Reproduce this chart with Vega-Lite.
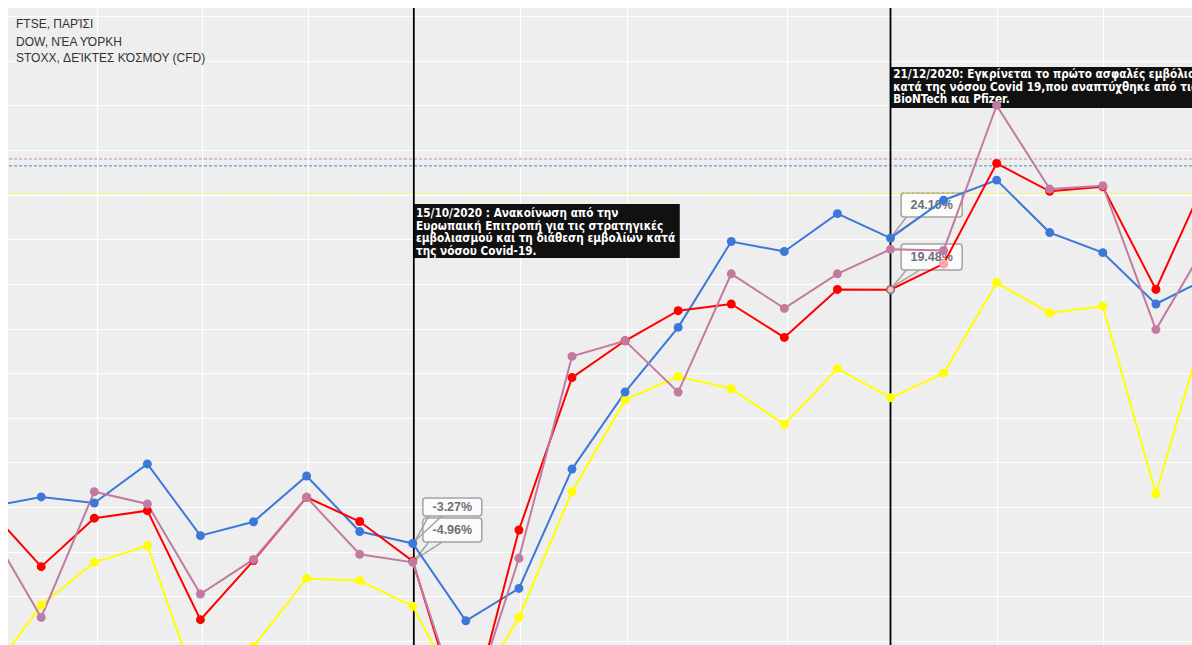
{
  "$schema": "https://vega.github.io/schema/vega-lite/v6.json",
  "autosize": {"type": "none"},
  "padding": {"left": 8, "top": 8, "right": 0, "bottom": 0},
  "width": 1184,
  "height": 637,
  "background": "#ffffff",
  "config": {
    "view": {"fill": "#eeeeee", "stroke": null},
    "axis": {"labels": false, "ticks": false, "domain": false, "title": null, "gridColor": "#ffffff", "gridWidth": 1.2, "gridOpacity": 1}
  },
  "datasets": {
    "series": [
      {"s":"yellow","x":-1,"y":-15.2},{"s":"yellow","x":0,"y":-8.8},{"s":"yellow","x":1,"y":-4.96},{"s":"yellow","x":2,"y":-3.47},{"s":"yellow","x":3,"y":-17.0},{"s":"yellow","x":4,"y":-12.5},{"s":"yellow","x":5,"y":-6.4},{"s":"yellow","x":6,"y":-6.6},{"s":"yellow","x":7,"y":-8.9},{"s":"yellow","x":8,"y":-17.9},{"s":"yellow","x":9,"y":-9.9},{"s":"yellow","x":10,"y":1.37},{"s":"yellow","x":11,"y":9.6},{"s":"yellow","x":12,"y":11.7},{"s":"yellow","x":13,"y":10.6},{"s":"yellow","x":14,"y":7.4},{"s":"yellow","x":15,"y":12.4},{"s":"yellow","x":16,"y":9.8},{"s":"yellow","x":17,"y":12.0},{"s":"yellow","x":18,"y":20.1},{"s":"yellow","x":19,"y":17.4},{"s":"yellow","x":20,"y":18.0},{"s":"yellow","x":21,"y":1.17},{"s":"yellow","x":22,"y":17.5},
      {"s":"blue","x":-1,"y":0.0},{"s":"blue","x":0,"y":0.9},{"s":"blue","x":1,"y":0.36},{"s":"blue","x":2,"y":3.86},{"s":"blue","x":3,"y":-2.57},{"s":"blue","x":4,"y":-1.32},{"s":"blue","x":5,"y":2.78},{"s":"blue","x":6,"y":-2.2},{"s":"blue","x":7,"y":-3.27},{"s":"blue","x":8,"y":-10.2},{"s":"blue","x":9,"y":-7.3},{"s":"blue","x":10,"y":3.4},{"s":"blue","x":11,"y":10.3},{"s":"blue","x":12,"y":16.1},{"s":"blue","x":13,"y":23.8},{"s":"blue","x":14,"y":22.9},{"s":"blue","x":15,"y":26.3},{"s":"blue","x":16,"y":24.1},{"s":"blue","x":17,"y":27.5},{"s":"blue","x":18,"y":29.3},{"s":"blue","x":19,"y":24.6},{"s":"blue","x":20,"y":22.8},{"s":"blue","x":21,"y":18.2},{"s":"blue","x":22,"y":20.6},
      {"s":"red","x":-1,"y":-0.1},{"s":"red","x":0,"y":-5.35},{"s":"red","x":1,"y":-1.0},{"s":"red","x":2,"y":-0.33},{"s":"red","x":3,"y":-10.1},{"s":"red","x":4,"y":-4.8},{"s":"red","x":5,"y":0.87},{"s":"red","x":6,"y":-1.3},{"s":"red","x":7,"y":-4.85},{"s":"red","x":8,"y":-20.3},{"s":"red","x":9,"y":-2.06},{"s":"red","x":10,"y":11.6},{"s":"red","x":11,"y":14.9},{"s":"red","x":12,"y":17.6},{"s":"red","x":13,"y":18.2},{"s":"red","x":14,"y":15.2},{"s":"red","x":15,"y":19.5},{"s":"red","x":16,"y":19.48},{"s":"red","x":17,"y":21.8},{"s":"red","x":18,"y":30.8},{"s":"red","x":19,"y":28.3},{"s":"red","x":20,"y":28.7},{"s":"red","x":21,"y":19.5},{"s":"red","x":22,"y":30.0},
      {"s":"pink","x":-1,"y":-1.7},{"s":"pink","x":0,"y":-9.9},{"s":"pink","x":1,"y":1.37},{"s":"pink","x":2,"y":0.27},{"s":"pink","x":3,"y":-7.8},{"s":"pink","x":4,"y":-4.7},{"s":"pink","x":5,"y":0.87},{"s":"pink","x":6,"y":-4.24},{"s":"pink","x":7,"y":-4.96},{"s":"pink","x":8,"y":-19.4},{"s":"pink","x":9,"y":-4.6},{"s":"pink","x":10,"y":13.5},{"s":"pink","x":11,"y":14.9},{"s":"pink","x":12,"y":10.3},{"s":"pink","x":13,"y":20.9},{"s":"pink","x":14,"y":17.8},{"s":"pink","x":15,"y":20.9},{"s":"pink","x":16,"y":23.1},{"s":"pink","x":17,"y":23.0},{"s":"pink","x":18,"y":36.0},{"s":"pink","x":19,"y":28.5},{"s":"pink","x":20,"y":28.8},{"s":"pink","x":21,"y":15.9},{"s":"pink","x":22,"y":24.0}
    ],
    "boxes": [
      {"x":7.02,"x2":12.03,"y":27.16,"y2":22.32},
      {"x":16.0,"x2":23,"y":39.44,"y2":35.77}
    ],
    "notes": [
      {"x":7.06,"y":25.99,"t":"15/10/2020 : Ανακοίνωση από την\nΕυρωπαική Επιτροπή για τις στρατηγικές\nεμβολιασμού και τη διάθεση εμβολίων κατά\nτης νόσου Covid-19."},
      {"x":16.05,"y":38.45,"t":"21/12/2020: Εγκρίνεται το πρώτο ασφαλές εμβόλιο\nκατά της νόσου Covid 19,που αναπτύχθηκε από τις\nBioNTech και Pfizer."}
    ],
    "tips": [
      {"x":7.19,"x2":8.3,"y":0.81,"y2":-0.81,"tx":7.745,"ty":0.0,"t":"-3.27%"},
      {"x":7.19,"x2":8.3,"y":-0.99,"y2":-3.14,"tx":7.745,"ty":-2.06,"t":"-4.96%"},
      {"x":16.2,"x2":17.35,"y":28.15,"y2":26.0,"tx":16.775,"ty":27.07,"t":"24.10%"},
      {"x":16.2,"x2":17.35,"y":23.57,"y2":21.24,"tx":16.775,"ty":22.4,"t":"19.48%"}
    ],
    "tails": [
      {"x":7.3,"y":-0.81,"x2":7.05,"y2":-3.0},
      {"x":7.55,"y":-0.81,"x2":7.05,"y2":-3.0},
      {"x":7.3,"y":-3.14,"x2":7.05,"y2":-4.7},
      {"x":7.55,"y":-3.14,"x2":7.05,"y2":-4.7},
      {"x":16.3,"y":26.0,"x2":16.03,"y2":24.3},
      {"x":16.55,"y":26.0,"x2":16.03,"y2":24.3},
      {"x":16.3,"y":21.24,"x2":16.03,"y2":19.7},
      {"x":16.55,"y":21.24,"x2":16.03,"y2":19.7}
    ],
    "hlines": [
      {"s":"pink","y":31.2},
      {"s":"blue","y":30.6},
      {"s":"yellow","y":28.2}
    ],
    "events": [
      {"x":7.02},
      {"x":16.0}
    ],
    "hl": [
      {"k":"sel","x":16,"y":19.48},
      {"k":"near","x":17,"y":21.8}
    ],
    "legend": [
      {"x":-0.475,"y":42.91,"t":"FTSE, ΠΑΡΊΣΙ"},
      {"x":-0.475,"y":41.35,"t":"DOW, ΝΈΑ ΥΌΡΚΗ"},
      {"x":-0.475,"y":39.85,"t":"STOXX, ΔΕΊΚΤΕΣ ΚΌΣΜΟΥ (CFD)"}
    ]
  },
  "layer": [
    {
      "data": {"name": "boxes"},
      "mark": {"type": "rect", "fill": "#111111", "clip": true},
      "encoding": {
        "x": {"field": "x", "type": "quantitative", "scale": {"domain": [-0.6255, 21.68], "nice": false, "zero": false}, "axis": {"values": [1.05, 3.03, 5.03, 7.02, 9.02, 11.03, 14.05, 16, 18, 20]}},
        "x2": {"field": "x2"},
        "y": {"field": "y", "type": "quantitative", "scale": {"domain": [-12.37, 44.73], "nice": false, "zero": false}, "axis": {"values": [-12, -8, -4, 0, 4, 8, 12, 16, 20, 24, 28, 32, 36, 40, 44]}},
        "y2": {"field": "y2"}
      }
    },
    {
      "data": {"name": "notes"},
      "mark": {"type": "text", "align": "left", "baseline": "alphabetic", "color": "#ffffff", "font": "DejaVu Sans Condensed", "fontWeight": "bold", "fontSize": 11.7, "lineBreak": "\n", "lineHeight": 12.7, "clip": true},
      "encoding": {
        "x": {"field": "x", "type": "quantitative", "scale": {"domain": [-0.6255, 21.68], "nice": false, "zero": false}, "axis": {"values": [1.05, 3.03, 5.03, 7.02, 9.02, 11.03, 14.05, 16, 18, 20]}},
        "y": {"field": "y", "type": "quantitative", "scale": {"domain": [-12.37, 44.73], "nice": false, "zero": false}, "axis": {"values": [-12, -8, -4, 0, 4, 8, 12, 16, 20, 24, 28, 32, 36, 40, 44]}},
        "text": {"field": "t", "type": "nominal"}
      }
    },
    {
      "data": {"name": "tips"},
      "mark": {"type": "rect", "fill": "#fbfbfb", "stroke": "#a3a3a3", "strokeWidth": 1.5, "cornerRadius": 3},
      "encoding": {
        "x": {"field": "x", "type": "quantitative", "scale": {"domain": [-0.6255, 21.68], "nice": false, "zero": false}, "axis": {"values": [1.05, 3.03, 5.03, 7.02, 9.02, 11.03, 14.05, 16, 18, 20]}},
        "x2": {"field": "x2"},
        "y": {"field": "y", "type": "quantitative", "scale": {"domain": [-12.37, 44.73], "nice": false, "zero": false}, "axis": {"values": [-12, -8, -4, 0, 4, 8, 12, 16, 20, 24, 28, 32, 36, 40, 44]}},
        "y2": {"field": "y2"}
      }
    },
    {
      "data": {"name": "tails"},
      "mark": {"type": "rule", "stroke": "#a3a3a3", "strokeWidth": 1.5},
      "encoding": {
        "x": {"field": "x", "type": "quantitative", "scale": {"domain": [-0.6255, 21.68], "nice": false, "zero": false}, "axis": {"values": [1.05, 3.03, 5.03, 7.02, 9.02, 11.03, 14.05, 16, 18, 20]}},
        "x2": {"field": "x2"},
        "y": {"field": "y", "type": "quantitative", "scale": {"domain": [-12.37, 44.73], "nice": false, "zero": false}, "axis": {"values": [-12, -8, -4, 0, 4, 8, 12, 16, 20, 24, 28, 32, 36, 40, 44]}},
        "y2": {"field": "y2"}
      }
    },
    {
      "data": {"name": "tips"},
      "mark": {"type": "text", "align": "center", "baseline": "middle", "color": "#6b7078", "font": "Liberation Sans", "fontWeight": "bold", "fontSize": 12.5},
      "encoding": {
        "x": {"field": "tx", "type": "quantitative", "scale": {"domain": [-0.6255, 21.68], "nice": false, "zero": false}, "axis": {"values": [1.05, 3.03, 5.03, 7.02, 9.02, 11.03, 14.05, 16, 18, 20]}},
        "y": {"field": "ty", "type": "quantitative", "scale": {"domain": [-12.37, 44.73], "nice": false, "zero": false}, "axis": {"values": [-12, -8, -4, 0, 4, 8, 12, 16, 20, 24, 28, 32, 36, 40, 44]}},
        "text": {"field": "t", "type": "nominal"}
      }
    },
    {
      "data": {"name": "hlines"},
      "mark": {"type": "rule", "strokeDash": [3, 2], "strokeWidth": 1.5, "opacity": 0.6},
      "encoding": {
        "y": {"field": "y", "type": "quantitative", "scale": {"domain": [-12.37, 44.73], "nice": false, "zero": false}, "axis": {"values": [-12, -8, -4, 0, 4, 8, 12, 16, 20, 24, 28, 32, 36, 40, 44]}},
        "color": {"field": "s", "type": "nominal", "scale": {"domain": ["yellow", "blue", "red", "pink"], "range": ["#ffff00", "#3c78d8", "#ff0000", "#c27ba0"]}, "legend": null}
      }
    },
    {
      "data": {"name": "events"},
      "mark": {"type": "rule", "color": "#000000", "strokeWidth": 1.8},
      "encoding": {
        "x": {"field": "x", "type": "quantitative", "scale": {"domain": [-0.6255, 21.68], "nice": false, "zero": false}, "axis": {"values": [1.05, 3.03, 5.03, 7.02, 9.02, 11.03, 14.05, 16, 18, 20]}}
      }
    },
    {
      "data": {"name": "series"},
      "mark": {"type": "line", "strokeWidth": 2, "clip": true},
      "encoding": {
        "x": {"field": "x", "type": "quantitative", "scale": {"domain": [-0.6255, 21.68], "nice": false, "zero": false}, "axis": {"values": [1.05, 3.03, 5.03, 7.02, 9.02, 11.03, 14.05, 16, 18, 20]}},
        "y": {"field": "y", "type": "quantitative", "scale": {"domain": [-12.37, 44.73], "nice": false, "zero": false}, "axis": {"values": [-12, -8, -4, 0, 4, 8, 12, 16, 20, 24, 28, 32, 36, 40, 44]}},
        "color": {"field": "s", "type": "nominal", "scale": {"domain": ["yellow", "blue", "red", "pink"], "range": ["#ffff00", "#3c78d8", "#ff0000", "#c27ba0"]}, "legend": null}
      }
    },
    {
      "data": {"name": "series"},
      "mark": {"type": "circle", "size": 80, "opacity": 1, "clip": true},
      "encoding": {
        "x": {"field": "x", "type": "quantitative", "scale": {"domain": [-0.6255, 21.68], "nice": false, "zero": false}, "axis": {"values": [1.05, 3.03, 5.03, 7.02, 9.02, 11.03, 14.05, 16, 18, 20]}},
        "y": {"field": "y", "type": "quantitative", "scale": {"domain": [-12.37, 44.73], "nice": false, "zero": false}, "axis": {"values": [-12, -8, -4, 0, 4, 8, 12, 16, 20, 24, 28, 32, 36, 40, 44]}},
        "color": {"field": "s", "type": "nominal", "scale": {"domain": ["yellow", "blue", "red", "pink"], "range": ["#ffff00", "#3c78d8", "#ff0000", "#c27ba0"]}, "legend": null}
      }
    },
    {
      "data": {"name": "hl"},
      "transform": [{"filter": "datum.k == 'sel'"}],
      "mark": {"type": "point", "filled": true, "fill": "#f0c8c8", "stroke": "#8a8a8a", "strokeWidth": 1.5, "size": 50, "opacity": 1},
      "encoding": {
        "x": {"field": "x", "type": "quantitative", "scale": {"domain": [-0.6255, 21.68], "nice": false, "zero": false}, "axis": {"values": [1.05, 3.03, 5.03, 7.02, 9.02, 11.03, 14.05, 16, 18, 20]}},
        "y": {"field": "y", "type": "quantitative", "scale": {"domain": [-12.37, 44.73], "nice": false, "zero": false}, "axis": {"values": [-12, -8, -4, 0, 4, 8, 12, 16, 20, 24, 28, 32, 36, 40, 44]}}
      }
    },
    {
      "data": {"name": "hl"},
      "transform": [{"filter": "datum.k == 'near'"}],
      "mark": {"type": "circle", "color": "#ffaaaa", "size": 80, "opacity": 1},
      "encoding": {
        "x": {"field": "x", "type": "quantitative", "scale": {"domain": [-0.6255, 21.68], "nice": false, "zero": false}, "axis": {"values": [1.05, 3.03, 5.03, 7.02, 9.02, 11.03, 14.05, 16, 18, 20]}},
        "y": {"field": "y", "type": "quantitative", "scale": {"domain": [-12.37, 44.73], "nice": false, "zero": false}, "axis": {"values": [-12, -8, -4, 0, 4, 8, 12, 16, 20, 24, 28, 32, 36, 40, 44]}}
      }
    },
    {
      "data": {"name": "legend"},
      "mark": {"type": "text", "align": "left", "baseline": "alphabetic", "color": "#333333", "font": "Liberation Sans", "fontSize": 12},
      "encoding": {
        "x": {"field": "x", "type": "quantitative", "scale": {"domain": [-0.6255, 21.68], "nice": false, "zero": false}, "axis": {"values": [1.05, 3.03, 5.03, 7.02, 9.02, 11.03, 14.05, 16, 18, 20]}},
        "y": {"field": "y", "type": "quantitative", "scale": {"domain": [-12.37, 44.73], "nice": false, "zero": false}, "axis": {"values": [-12, -8, -4, 0, 4, 8, 12, 16, 20, 24, 28, 32, 36, 40, 44]}},
        "text": {"field": "t", "type": "nominal"}
      }
    }
  ]
}
